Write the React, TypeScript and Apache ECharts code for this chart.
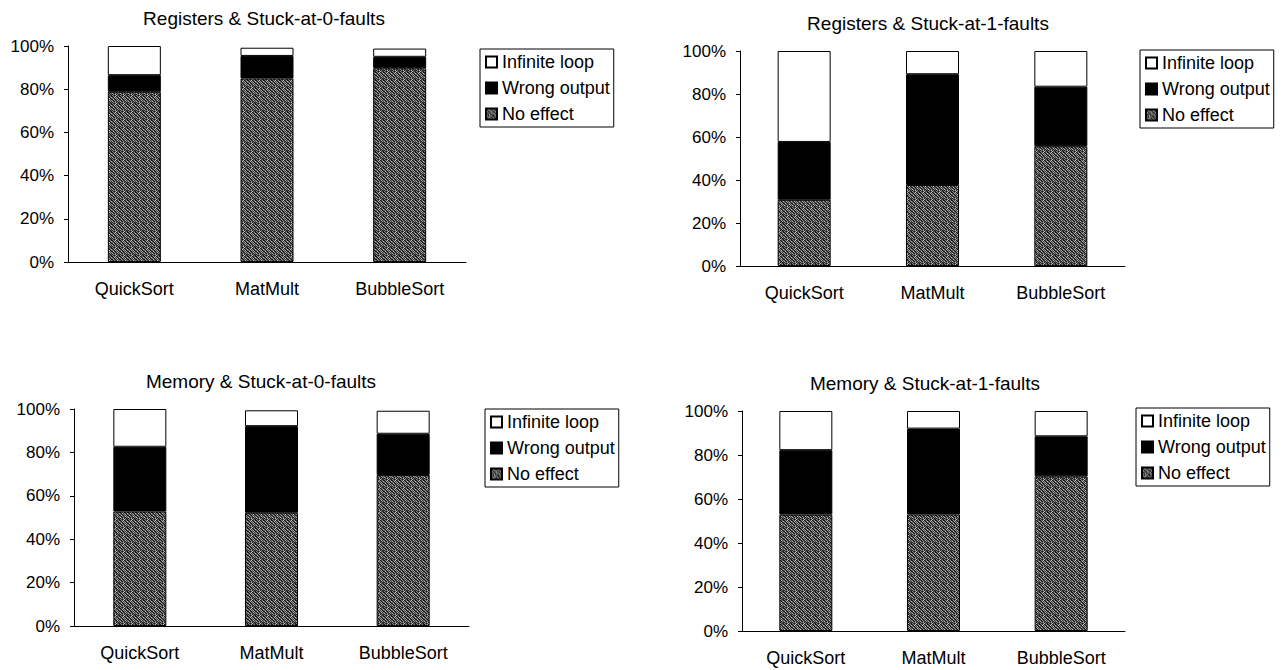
import React, { useEffect, useRef } from 'react';
import * as echarts from 'echarts';

// ---------- data ----------
const categories = ['QuickSort', 'MatMult', 'BubbleSort'];
const legendOrder = ['Infinite loop', 'Wrong output', 'No effect'];
const yTickValues = [0, 20, 40, 60, 80, 100];

const panelTitles = [
  'Registers & Stuck-at-0-faults',
  'Registers & Stuck-at-1-faults',
  'Memory & Stuck-at-0-faults',
  'Memory & Stuck-at-1-faults',
];

// Registers & Stuck-at-0
const regSA0NoEffect = [78.8, 85.0, 89.7];
const regSA0Wrong = [7.7, 10.4, 5.3];
const regSA0Loop = [13.5, 3.8, 3.8];
// Registers & Stuck-at-1
const regSA1NoEffect = [30.8, 37.7, 55.7];
const regSA1Wrong = [26.9, 51.5, 27.7];
const regSA1Loop = [42.3, 10.8, 16.6];
// Memory & Stuck-at-0
const memSA0NoEffect = [52.8, 52.2, 69.6];
const memSA0Wrong = [29.8, 39.9, 19.0];
const memSA0Loop = [17.4, 7.3, 10.6];
// Memory & Stuck-at-1
const memSA1NoEffect = [52.9, 53.0, 70.3];
const memSA1Wrong = [29.3, 39.0, 18.2];
const memSA1Loop = [17.8, 8.0, 11.5];

const panelData = [
  [regSA0NoEffect, regSA0Wrong, regSA0Loop],
  [regSA1NoEffect, regSA1Wrong, regSA1Loop],
  [memSA0NoEffect, memSA0Wrong, memSA0Loop],
  [memSA1NoEffect, memSA1Wrong, memSA1Loop],
];

// ---------- layout ----------
const layout = [
  { grid: { left: 68, top: 46, width: 398, height: 216 }, title: { x: 264, y: 18 }, legend: { left: 480, top: 49 } },
  { grid: { left: 740, top: 51, width: 385, height: 215 }, title: { x: 928, y: 23 }, legend: { left: 1140, top: 50 } },
  { grid: { left: 74, top: 409, width: 395, height: 217 }, title: { x: 261, y: 381 }, legend: { left: 485, top: 409 } },
  { grid: { left: 742, top: 411, width: 383, height: 220 }, title: { x: 925, y: 383 }, legend: { left: 1136, top: 408 } },
];

const FONT = '"Liberation Sans", Arial, sans-serif';

// fixed dither texture (hand-written levels)
const textureLevels = [
  [0, 2, 1, 3, 0, 1, 2, 0],
  [1, 0, 3, 1, 2, 0, 1, 3],
  [2, 1, 0, 2, 1, 3, 0, 1],
  [0, 3, 1, 0, 2, 1, 2, 0],
  [1, 0, 2, 1, 0, 3, 1, 2],
  [3, 1, 0, 2, 1, 0, 2, 1],
  [0, 2, 1, 3, 0, 2, 0, 1],
  [2, 1, 0, 1, 3, 1, 1, 0],
];
const textureGrays = ['#161616', '#464646', '#858585', '#bdbdbd'];

function makePattern(): HTMLCanvasElement {
  const n = textureLevels.length;
  const c = document.createElement('canvas');
  c.width = n;
  c.height = n;
  const ctx = c.getContext('2d')!;
  textureLevels.forEach((row, y) =>
    row.forEach((lv, x) => {
      ctx.fillStyle = textureGrays[lv];
      ctx.fillRect(x, y, 1, 1);
    })
  );
  return c;
}

export default function App() {
  const ref = useRef<HTMLDivElement>(null);

  useEffect(() => {
    if (!ref.current) return;
    const chart = echarts.init(ref.current, undefined, { renderer: 'svg' });
    const pattern = makePattern();

    const names = ['No effect', 'Wrong output', 'Infinite loop'];
    const colors: any[] = [{ image: pattern, repeat: 'repeat' }, '#000000', '#ffffff'];

    const series: any[] = [];
    panelData.forEach((arrs, pi) => {
      arrs.forEach((vals, si) => {
        series.push({
          type: 'bar',
          name: names[si],
          xAxisIndex: pi,
          yAxisIndex: pi,
          stack: 'p' + pi,
          barWidth: 53,
          data: vals,
          itemStyle: { color: colors[si], borderColor: '#000', borderWidth: 1 },
          emphasis: { disabled: true },
        });
      });
    });

    const option: any = {
      animation: false,
      backgroundColor: '#ffffff',
      grid: layout.map((l) => ({ ...l.grid })),
      xAxis: layout.map((_, i) => ({
        gridIndex: i,
        type: 'category',
        data: categories,
        axisLine: { lineStyle: { color: '#000', width: 1 } },
        axisTick: { inside: true, length: 5, lineStyle: { color: '#000' } },
        axisLabel: { color: '#000', fontSize: 18, margin: 18, fontFamily: FONT, interval: 0 },
      })),
      yAxis: layout.map((_, i) => ({
        gridIndex: i,
        type: 'value',
        min: yTickValues[0],
        max: yTickValues[yTickValues.length - 1],
        interval: yTickValues[1] - yTickValues[0],
        axisLine: { show: true, lineStyle: { color: '#000', width: 1 } },
        axisTick: { show: true, length: 4, lineStyle: { color: '#000' } },
        splitLine: { show: false },
        axisLabel: { color: '#000', fontSize: 17, margin: 14, fontFamily: FONT, formatter: '{value}%' },
      })),
      legend: layout.map((l) => ({
        left: l.legend.left,
        top: l.legend.top,
        orient: 'vertical',
        data: legendOrder,
        icon: 'rect',
        itemWidth: 11,
        itemHeight: 11,
        itemGap: 8,
        padding: [4, 4, 4, 5],
        borderColor: '#000',
        borderWidth: 1,
        selectedMode: false,
        textStyle: { fontSize: 18, fontFamily: FONT, color: '#000' },
      })),
      graphic: layout.map((l, i) => ({
        type: 'text',
        x: l.title.x,
        y: l.title.y,
        style: {
          text: panelTitles[i],
          fontSize: 19,
          fontFamily: FONT,
          fill: '#000',
          textAlign: 'center',
          textVerticalAlign: 'middle',
        },
      })),
      series,
    };

    chart.setOption(option);
    return () => chart.dispose();
  }, []);

  return (
    <div
      ref={ref}
      style={{ position: 'fixed', left: 0, top: 0, width: '1287px', height: '670px', background: '#fff' }}
    />
  );
}
